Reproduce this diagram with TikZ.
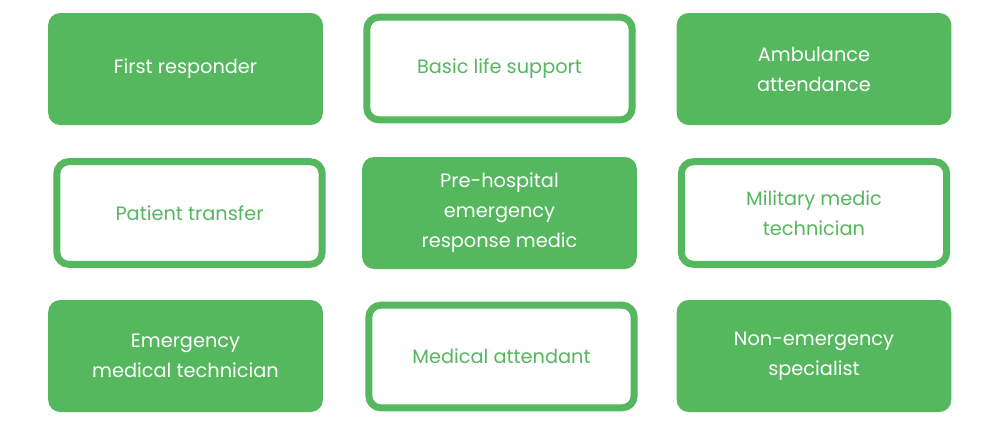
\documentclass[tikz,border=0pt]{standalone}
\usepackage{fontspec}
\setmainfont{Poppins}
\definecolor{g}{HTML}{55B75E}
\begin{document}
\begin{tikzpicture}[x=0.75pt,y=-0.75pt,
 box/.style={rounded corners=9pt,align=center,font=\fontsize{14.5}{22.5}\selectfont,inner sep=0pt},
 fill box/.style={box,fill=g,text=white,minimum width=206pt,minimum height=84pt},
 line box/.style={box,draw=g,line width=5.25pt,fill=white,text=g,minimum width=199pt,minimum height=77pt}]
\useasboundingbox (0,0) rectangle (1000,422);
\node[fill box] (a) at (185.5,69) {First responder};
\node[line box] (b) at (499.5,68.5) {Basic life support};
\node[fill box] (c) at (814,69) {Ambulance\\attendance};
\node[line box] (d) at (189.5,213) {Patient transfer};
\node[fill box] (e) at (499.5,213) {Pre-hospital\\emergency\\response medic};
\node[line box] (f) at (814,213) {Military medic\\technician};
\node[fill box] (g1) at (185.5,356) {Emergency\\medical technician};
\node[line box] (h) at (501.5,356.5) {Medical attendant};
\node[fill box] (i) at (814,356) {Non-emergency\\specialist};
\end{tikzpicture}
\end{document}
